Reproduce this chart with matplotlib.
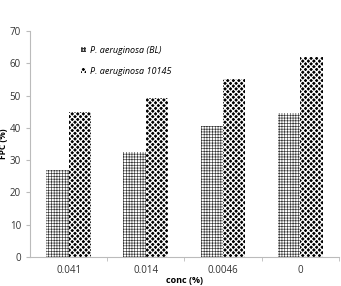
import numpy as np
import matplotlib
matplotlib.use("Agg")
import matplotlib.pyplot as plt

categories = ["0.041", "0.014", "0.0046", "0"]
bl_values = [27.0, 32.5, 40.5, 44.5]
strain_values = [44.8, 49.3, 55.2, 62.0]
series_names = ["P. aeruginosa (BL)", "P. aeruginosa 10145"]

plt.rcParams["font.family"] = ["Open Sans", "DejaVu Sans"]
plt.rcParams["hatch.linewidth"] = 0.45

fig = plt.figure(figsize=(3.41, 2.86), dpi=100)
ax = fig.add_axes([0.088, 0.101, 0.906, 0.791])

x = np.arange(len(categories))
w = 0.29

# grid-hatched bars for BL
b1 = ax.bar(x - w / 2, bl_values, w, facecolor="white", edgecolor="#333333",
            hatch="++++++", linewidth=0, label=series_names[0])
# black diamonds for 10145: black fill with white cross hatch
plt.rcParams["hatch.linewidth"] = 0.9
b2 = ax.bar(x + w / 2, strain_values, w, facecolor="black", edgecolor="white",
            hatch="xxxxxx", linewidth=0, label=series_names[1])

ax.set_xlim(-0.5, 3.5)
ax.set_ylim(0, 70)
ax.set_yticks(range(0, 71, 10))
ax.set_xticks(x)
ax.set_xticklabels(categories)
ax.set_xticks([0.5, 1.5, 2.5, 3.5], minor=True)
ax.tick_params(axis="x", which="major", length=0, pad=6, labelsize=7, labelcolor="#333333")
ax.tick_params(axis="x", which="minor", length=3, color="#bbbbbb")
ax.tick_params(axis="y", length=3, color="#bbbbbb", labelsize=7, labelcolor="#333333")

for s in ["top", "right"]:
    ax.spines[s].set_visible(False)
for s in ["left", "bottom"]:
    ax.spines[s].set_color("#bbbbbb")
    ax.spines[s].set_linewidth(0.8)

ax.set_ylabel("FPC (%)", fontsize=6, fontweight="bold")
ax.yaxis.set_label_coords(-0.072, 0.5)
ax.set_xlabel("conc (%)", fontsize=6.5, fontweight="bold")
ax.xaxis.set_label_coords(0.5, -0.085)

leg = ax.legend(loc="upper left", bbox_to_anchor=(0.14, 0.97), frameon=False,
                prop={"style": "italic", "size": 6.5}, handlelength=0.5,
                handleheight=0.5, handletextpad=0.4, labelspacing=1.3)

fig.savefig("out.png", dpi=100)
